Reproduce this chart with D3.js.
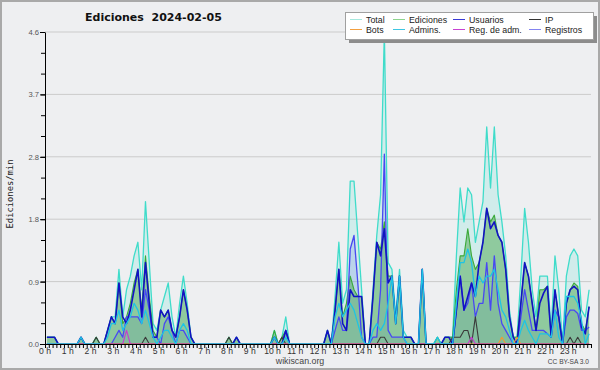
<!DOCTYPE html>
<html>
<head>
<meta charset="utf-8">
<script src="https://cdn.jsdelivr.net/npm/d3@7"></script>
<style>
body { margin: 0; background: #fff; }
svg { display: block; }
</style>
</head>
<body>
<div id="chart"></div>
<script>
// one value per 10 minutes (6 per hour), edits per minute
const total = [
  .1,.1,.1,0,0,0,  0,0,0,.1,0,0,  0,.1,0,0,.2,.4,  .4,1.1,.4,.8,1.0,1.3,
  1.5,.8,2.1,1.2,.3,.2,  .5,.7,.9,.4,.1,.6,  1.0,.6,.1,0,0,0,  0,0,0,0,0,0,
  .1,0,.1,0,0,0,  0,0,0,0,0,0,  .2,0,.1,.4,0,0,  0,0,0,0,0,0,
  0,0,.2,0,.7,1.5,  .6,.8,2.4,2.4,1.6,.8,  0,0,.8,1.6,2.2,4.6,  1.2,1.1,.4,1.1,.2,.1,
  .1,0,0,1.1,0,0,  0,.1,0,.1,.1,.1,  1.3,2.3,1.8,2.3,2.2,1.5,  1.8,2.1,3.2,2.3,3.2,2.2,
  1.8,1.3,.5,.1,.1,1.0,  2.0,1.5,.8,.4,1.0,1.0,  1.0,.2,1.3,.8,0,1.0,  1.3,1.4,1.3,.5,.4,.8
];
const ediciones = [
  .1,.1,.1,0,0,0,  0,0,0,.1,0,0,  0,.1,0,0,.2,.4,  .3,.9,.3,.4,.6,.9,
  1.1,.5,1.3,.7,.2,.1,  .5,.4,.5,.2,.1,.4,  .8,.5,.1,0,0,0,  0,0,0,0,0,0,
  .1,0,.1,0,0,0,  0,0,0,0,0,0,  .2,0,.1,.2,0,0,  0,0,0,0,0,0,
  0,0,.2,0,.5,1.1,  .4,.6,1.0,.8,.7,.7,  0,0,.7,1.5,1.4,1.8,  1.0,1.0,.3,1.0,.1,.1,
  .1,0,0,1.1,0,0,  0,.1,0,.1,.1,.1,  .8,1.3,1.3,1.7,1.3,1.1,  1.2,1.5,2.0,1.8,1.9,1.6,
  1.5,1.1,.4,.1,.1,.6,  1.2,1.0,.6,.2,.8,.8,  .85,.1,.8,.4,0,.6,  .8,.9,.85,.3,.2,.55
];
const usuarios = [
  .1,.1,.1,0,0,0,  0,0,0,.1,0,0,  0,0,0,0,.2,.4,  .3,.9,.4,.3,.5,.8,
  1.1,.4,1.2,.6,.1,.1,  .5,.4,.5,.2,.1,.4,  .8,.5,.1,0,0,0,  0,0,0,0,0,0,
  0,0,.1,0,0,0,  0,0,0,0,0,0,  .1,0,0,.2,0,0,  0,0,0,0,0,0,
  0,0,.2,0,.5,1.1,  .3,.2,.8,.7,.7,.7,  0,0,.7,1.5,1.3,1.7,  .9,1.0,.3,1.0,.1,.1,
  .1,0,0,1.1,0,0,  0,0,0,.1,.1,0,  .5,1.0,.5,.7,.9,.7,  1.2,1.5,2.0,1.7,1.8,1.6,
  1.5,1.1,.4,.1,0,.6,  1.2,1.0,.6,.2,.6,.75,  .85,.1,.8,.4,0,.6,  .8,.85,.8,.25,.15,.55
];
const ip = [
  0,0,0,0,0,0,  0,0,0,0,0,0,  0,.1,0,0,0,0,  0,0,0,0,0,0,
  0,0,.1,0,0,0,  0,0,0,0,0,0,  0,0,0,0,0,0,  0,0,0,0,0,0,
  .1,0,0,0,0,0,  0,0,0,0,0,0,  0,0,.1,0,0,0,  0,0,0,0,0,0,
  0,0,0,0,0,0,  0,0,0,0,0,0,  0,0,0,0,.1,.1,  0,0,0,0,0,0,
  0,0,0,0,0,0,  0,0,0,0,0,.1,  .1,.1,.2,.2,0,.4,  0,0,0,0,0,0,
  0,0,0,0,0,0,  0,0,0,0,0,0,  0,0,0,0,0,0,  .1,0,.1,0,0,0
];
const bots = [
  0,0,0,0,0,0,  0,0,0,0,0,0,  0,0,0,0,0,0,  0,0,0,0,0,0,
  0,0,0,0,0,0,  0,0,0,0,0,0,  0,0,0,0,0,0,  0,0,0,0,0,0,
  0,0,0,0,0,0,  0,0,0,0,0,0,  0,0,0,0,0,0,  0,0,0,0,0,0,
  0,0,0,0,0,0,  0,0,0,0,0,0,  0,0,0,0,0,0,  0,0,0,0,0,0,
  0,0,0,0,0,0,  0,0,0,0,0,0,  0,0,0,0,0,0,  0,0,0,0,0,0,
  .1,0,0,0,.1,0,  0,0,0,0,0,0,  0,0,0,0,0,0,  0,0,0,0,0,0
];
const admins = [
  0,0,0,0,0,0,  0,0,0,.1,0,0,  0,0,0,0,.1,.3,  .3,.5,.2,.3,.4,.6,
  .5,.3,.5,.3,.1,0,  .1,.2,.2,.1,0,.2,  .3,.2,0,0,0,0,  0,0,0,0,0,0,
  0,0,0,0,0,0,  0,0,0,0,0,0,  .1,0,0,.1,0,0,  0,0,0,0,0,0,
  0,0,0,0,.4,.6,  .4,.5,.6,.5,.3,.1,  0,0,.2,.3,.2,.3,  .6,1.0,.3,1.0,.1,0,
  0,0,0,1.1,0,0,  0,.1,0,0,0,0,  .6,1.2,1.2,1.4,1.2,.7,  1.0,.9,1.0,1.0,1.1,.8,
  .5,.4,.2,0,0,.2,  .35,.2,.1,0,.15,.15,  .15,.1,.5,.1,0,.7,  .7,.7,.6,.35,0,.15
];
const regAdm = [
  0,0,0,0,0,0,  0,0,0,0,0,0,  0,0,0,0,0,0,  0,0,0,.2,0,0,
  0,0,0,0,0,0,  0,0,0,0,0,0,  0,0,0,0,0,0,  0,0,0,0,0,0,
  0,0,0,0,0,0,  0,0,0,0,0,0,  0,0,0,0,0,0,  0,0,0,0,0,0,
  0,0,0,0,0,0,  0,0,0,0,0,0,  0,0,0,0,0,0,  0,0,0,0,0,0,
  0,0,0,0,0,0,  0,0,0,0,0,0,  0,0,0,0,.1,0,  0,0,0,0,0,0,
  0,0,0,0,0,0,  0,0,0,0,0,0,  0,0,0,0,0,0,  0,0,0,0,0,0
];
const registros = [
  0,0,0,0,0,0,  0,0,0,0,0,0,  0,0,0,0,0,0,  .1,.2,.1,.4,.4,.4,
  .4,.3,.8,.5,.1,.1,  0,.3,.4,.2,0,.2,  .2,.1,0,0,0,0,  0,0,0,0,0,0,
  0,0,0,0,0,0,  0,0,0,0,0,0,  0,0,0,.2,0,0,  0,0,0,0,0,0,
  0,0,0,0,.2,.4,  .2,.2,1.4,1.6,.9,.1,  0,0,.1,.1,.8,2.8,  .2,.1,.1,.1,.1,0,
  0,0,0,0,0,0,  0,0,0,0,0,0,  .5,1.0,.5,.6,.9,.4,  .6,.6,1.2,.5,1.3,.6,
  .3,.2,.1,0,0,.4,  .8,.5,.2,.2,.2,.2,  .15,.1,.5,.4,0,.4,  .5,.5,.45,.2,.2,.25
];

const hourLabels = ["0 h","1 h","2 h","3 h","4 h","5 h","6 h","7 h","8 h","9 h","10 h","11 h",
  "12 h","13 h","14 h","15 h","16 h","17 h","18 h","19 h","20 h","21 h","22 h","23 h"];
const yTicks = [0, 0.92, 1.84, 2.76, 3.68, 4.6];
const legendNames = ["Total", "Ediciones", "Usuarios", "IP", "Bots", "Admins.", "Reg. de adm.", "Registros"];

const W = 600, H = 370;
const margin = {top: 32, right: 9, bottom: 26, left: 45};
const width = W - margin.left - margin.right;
const height = H - margin.top - margin.bottom;
const sans = "'Liberation Sans', Arial, sans-serif";

const svg = d3.select("#chart").append("svg")
    .attr("width", W)
    .attr("height", H);

// background and frame
svg.append("rect").attr("width", W).attr("height", H).attr("fill", "#eeeff1");
svg.append("rect").attr("x", 1).attr("y", 1).attr("width", W - 2).attr("height", H - 2)
    .attr("fill", "none").attr("stroke", "#a9a9a9").attr("stroke-width", 2);

const g = svg.append("g")
    .attr("transform", `translate(${margin.left},${margin.top})`);

// minutes of the day -> x, value -> y
const x = d3.scaleLinear().domain([0, 1440]).range([0, width]);
const y = d3.scaleLinear().domain([0, 4.6]).range([height, 0]);
const px = (d, i) => x(i * 10 + 5);

// grid
g.selectAll(".grid")
    .data(yTicks.slice(1))
    .enter().append("line")
    .attr("x1", 0).attr("x2", width)
    .attr("y1", d => y(d)).attr("y2", d => y(d))
    .attr("stroke", "#cbcbcb").attr("stroke-width", 1);

const area = d3.area().x(px).y0(height).y1(d => y(d));
const line = d3.line().x(px).y(d => y(d));

// filled series
g.append("path").datum(total).attr("d", area).attr("fill", "rgba(64,224,208,0.16)");
g.append("path").datum(registros).attr("d", area).attr("fill", "rgba(70,90,230,0.16)");
g.append("path").datum(ediciones).attr("d", area).attr("fill", "rgba(60,160,60,0.44)");

const series = [
    {data: total, color: "#3fdcca", w: 1.3},
    {data: ediciones, color: "#3aaa3a", w: 1.1},
    {data: registros, color: "#4848f2", w: 1.3},
    {data: usuarios, color: "#1212c4", w: 1.6},
    {data: ip, color: "#3a3a3a", w: 1.1},
    {data: bots, color: "#f39a2e", w: 1.1},
    {data: regAdm, color: "#c838d0", w: 1.1},
    {data: admins, color: "#1ec4e4", w: 1.3}
];

g.selectAll(".serie")
    .data(series)
    .enter().append("path")
    .attr("d", d => line(d.data))
    .attr("fill", "none")
    .attr("stroke", d => d.color)
    .attr("stroke-width", d => d.w)
    .attr("stroke-linejoin", "round");

// x axis: a tick every 10 minutes, label every hour
const xAxis = g.append("g")
    .attr("transform", `translate(0,${height})`)
    .call(d3.axisBottom(x).tickValues(d3.range(0, 1441, 10)).tickSize(4).tickSizeOuter(0).tickFormat(""));
xAxis.select(".domain").attr("stroke", "#000");
xAxis.selectAll(".tick line").attr("stroke", "#000");

g.selectAll(".hlabel")
    .data(hourLabels)
    .enter().append("text")
    .attr("x", (d, i) => x(i * 60))
    .attr("y", height + 10)
    .attr("text-anchor", "middle")
    .attr("font-family", sans)
    .attr("font-size", "8.6px")
    .attr("fill", "#333")
    .text(d => d);

// y axis with minor ticks
const minor = d3.range(16).map(k => k * 4.6 / 15);
const yMinor = g.append("g")
    .call(d3.axisLeft(y).tickValues(minor).tickSize(4).tickSizeOuter(0).tickFormat(""));
yMinor.select(".domain").remove();
yMinor.selectAll(".tick line").attr("stroke", "#000");

const yAxis = g.append("g")
    .call(d3.axisLeft(y).tickValues(yTicks).tickSize(5).tickSizeOuter(0).tickPadding(1).tickFormat(d3.format(".1f")));
yAxis.select(".domain").attr("stroke", "#000");
yAxis.selectAll(".tick line").attr("stroke", "#000");
yAxis.selectAll("text")
    .attr("font-family", sans)
    .attr("font-size", "7.6px")
    .attr("fill", "#555");

// titles
svg.append("text")
    .attr("x", 85).attr("y", 21)
    .attr("font-family", "'DejaVu Sans', sans-serif")
    .attr("font-weight", "bold")
    .attr("font-size", "11px")
    .attr("fill", "#111")
    .attr("xml:space", "preserve")
    .text("Ediciones  2024-02-05");

svg.append("text")
    .attr("transform", "translate(13,194) rotate(-90)")
    .attr("text-anchor", "middle")
    .attr("font-family", "'DejaVu Sans Mono', monospace")
    .attr("font-size", "8.8px")
    .attr("fill", "#222")
    .text("Ediciones/min");

svg.append("text")
    .attr("x", 300).attr("y", 364)
    .attr("text-anchor", "middle")
    .attr("font-family", sans)
    .attr("font-size", "8.8px")
    .attr("fill", "#444")
    .text("wikiscan.org");

svg.append("text")
    .attr("x", 589).attr("y", 364)
    .attr("text-anchor", "end")
    .attr("font-family", sans)
    .attr("font-size", "6.6px")
    .attr("fill", "#444")
    .text("CC BY-SA 3.0");

// legend
const lg = svg.append("g");
lg.append("rect").attr("x", 349).attr("y", 16).attr("width", 248).attr("height", 27).attr("fill", "#8c8c8c");
lg.append("rect").attr("x", 345.5).attr("y", 12.5).attr("width", 248).attr("height", 27)
    .attr("fill", "#ffffff").attr("stroke", "#a0a0a0");

const colX = [350, 393, 453, 529];
const legendColors = ["#a6e8de", "#8ed48e", "#3a3ad6", "#333333", "#f3a040", "#3ec6e2", "#c842d2", "#8484f0"];
const items = lg.selectAll(".item")
    .data(legendNames)
    .enter().append("g")
    .attr("transform", (d, i) => `translate(${colX[i % 4]},${i < 4 ? 19.5 : 29.5})`);
items.append("line")
    .attr("x1", 0).attr("x2", 12)
    .attr("stroke", (d, i) => legendColors[i])
    .attr("stroke-width", 1);
items.append("text")
    .attr("x", 16).attr("y", 3.2)
    .attr("font-family", sans)
    .attr("font-size", "8.8px")
    .attr("fill", "#222")
    .text(d => d);
</script>
</body>
</html>
